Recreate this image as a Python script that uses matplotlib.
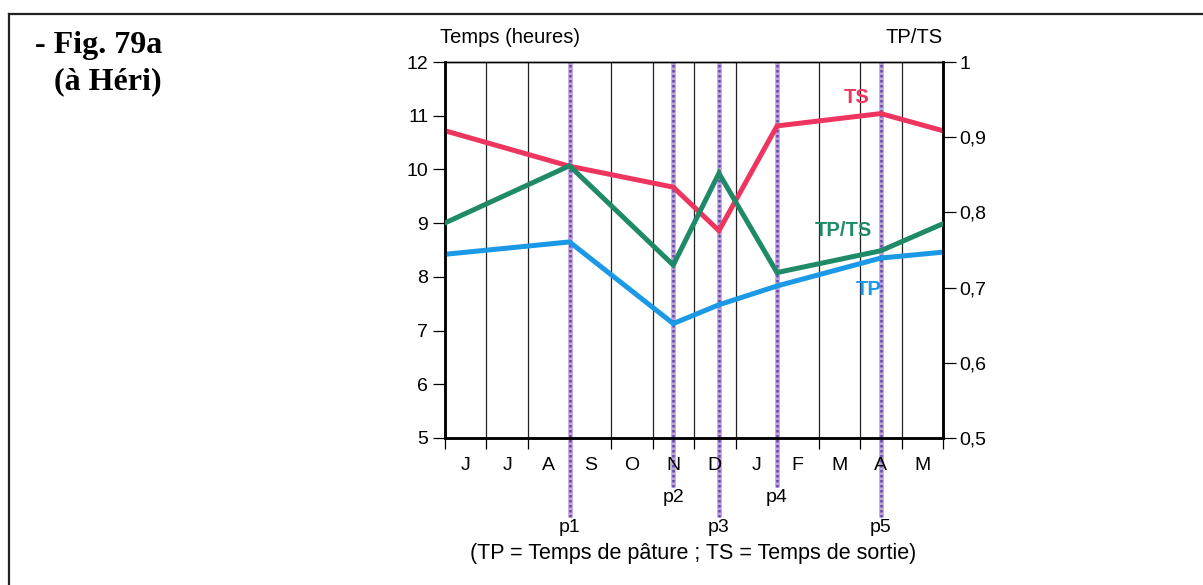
import matplotlib
matplotlib.use("Agg")
import matplotlib.pyplot as plt
from matplotlib.lines import Line2D

plt.rcParams['font.family'] = ['Liberation Sans', 'DejaVu Sans']

# mois de juin a mai
months = ['J', 'J', 'A', 'S', 'O', 'N', 'D', 'J', 'F', 'M', 'A', 'M']
# position des releves (en mois depuis debut juin)
obs_x = [0, 3, 5.5, 6.6, 8, 10.5, 12]
ts = [10.72, 10.06, 9.67, 8.86, 10.81, 11.04, 10.72]
tp = [8.42, 8.65, 7.13, 7.48, 7.83, 8.35, 8.46]
ratio = [0.786, 0.862, 0.730, 0.852, 0.720, 0.749, 0.785]

# periodes p1..p5
p_names = ['p1', 'p2', 'p3', 'p4', 'p5']
p_x = [3, 5.5, 6.6, 8, 10.5]
p_low = [True, False, True, False, True]

c_ts = '#ee3560'
c_ratio = '#1f8a67'
c_tp = '#1b98e6'

fig = plt.figure(figsize=(12.03, 5.85), dpi=100)
ax = fig.add_axes([0.3699, 0.2513, 0.414, 0.6427])
ax2 = ax.twinx()

ax.set_xlim(0, 12)
ax.set_ylim(5, 12)
ax2.set_ylim(0.5, 1.0)

# grille verticale mensuelle
for k in range(1, 12):
    ax.axvline(k, color='#222222', lw=0.9, zorder=1)

# traits des periodes, prolonges sous l'axe
for name, x, low in zip(p_names, p_x, p_low):
    y0 = 3.53 if low else 4.09
    ax.plot([x, x], [y0, 12], color='#c4a2dc', lw=3.4, solid_capstyle='butt',
            clip_on=False, zorder=2)
    ax.plot([x, x], [y0, 12], color='#5e4cb0', lw=1.8, dashes=(1.0, 1.0),
            clip_on=False, zorder=2)
    ax.text(x, y0 - 0.04, name, ha='center', va='top', fontsize=14)

ax.plot(obs_x, ts, color=c_ts, lw=3.6, zorder=4, solid_joinstyle='miter')
ax.plot(obs_x, tp, color=c_tp, lw=3.6, zorder=4, solid_joinstyle='miter')
ax2.plot(obs_x, ratio, color=c_ratio, lw=3.6, zorder=4, solid_joinstyle='miter')

ax.text(9.93, 11.33, 'TS', color=c_ts, fontsize=14.5, fontweight='bold',
        ha='center', va='center')
ax.text(9.59, 8.86, 'TP/TS', color=c_ratio, fontsize=14.5, fontweight='bold',
        ha='center', va='center')
ax.text(10.22, 7.76, 'TP', color=c_tp, fontsize=14.5, fontweight='bold',
        ha='center', va='center')

# axes et graduations
ax.set_yticks(range(5, 13))
ax.tick_params(axis='y', direction='out', length=9, width=0.9, labelsize=14, pad=3)
ax.set_xticks(range(0, 13))
ax.set_xticklabels([])
ax.tick_params(axis='x', direction='out', length=8, width=0.9)
for k, m in enumerate(months):
    ax.text(k + 0.5, 4.48, m, ha='center', va='center', fontsize=14)

r_ticks = [0.5, 0.6, 0.7, 0.8, 0.9, 1.0]
ax2.set_yticks(r_ticks)
ax2.set_yticklabels(['0,5', '0,6', '0,7', '0,8', '0,9', '1'])
ax2.tick_params(axis='y', direction='out', length=9, width=0.9, labelsize=14, pad=3)

for a in (ax, ax2):
    a.spines['left'].set_linewidth(1.8)
    a.spines['right'].set_linewidth(1.8)
    a.spines['bottom'].set_linewidth(1.8)
    a.spines['top'].set_linewidth(1.0)

ax.text(-0.12, 12.28, 'Temps (heures)', ha='left', va='bottom', fontsize=14.5)
ax.text(12, 12.28, 'TP/TS', ha='right', va='bottom', fontsize=14.5)
fig.text(0.576, 1 - 554 / 585, '(TP = Temps de pâture ; TS = Temps de sortie)',
         ha='center', va='center', fontsize=15.5)

# titre a gauche
fig.text(0.029, 1 - 46 / 585, '- Fig. 79a', family='Liberation Serif',
         fontweight='bold', fontsize=23, ha='left', va='center')
fig.text(0.045, 1 - 82 / 585, '(à Héri)', family='Liberation Serif',
         fontweight='bold', fontsize=23, ha='left', va='center')

# cadre
fig.add_artist(Line2D([9 / 1203, 1], [1 - 14 / 585, 1 - 14 / 585],
                      color='#222222', lw=1.6))
fig.add_artist(Line2D([9 / 1203, 9 / 1203], [0, 1 - 14 / 585],
                      color='#222222', lw=1.6))

fig.savefig('out.png', dpi=100)
